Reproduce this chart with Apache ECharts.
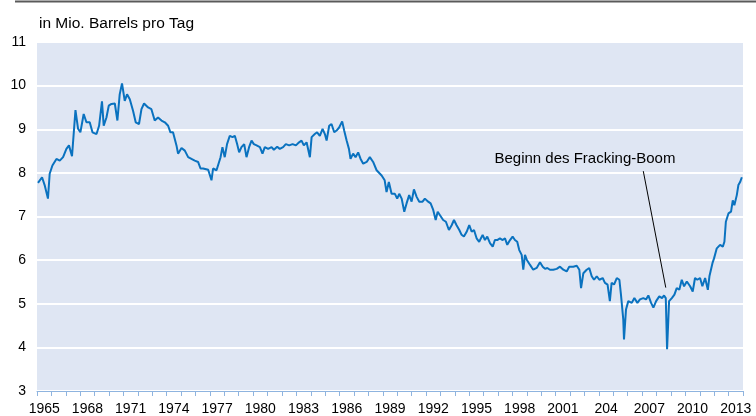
<!DOCTYPE html>
<html>
<head>
<meta charset="utf-8">
<script src="https://cdn.jsdelivr.net/npm/echarts@6/dist/echarts.min.js"></script>
<style>
html,body{margin:0;padding:0;background:#fff;}
#c{width:756px;height:416px;}
</style>
</head>
<body>
<div id="c"></div>
<script>
// Category labels on the x axis (one per year; "204" as printed in the original)
var yearLabels = ["1965","1966","1967","1968","1969","1970","1971","1972","1973","1974",
  "1975","1976","1977","1978","1979","1980","1981","1982","1983","1984",
  "1985","1986","1987","1988","1989","1990","1991","1992","1993","1994",
  "1995","1996","1997","1998","1999","2000","2001","2002","2003","204",
  "2005","2006","2007","2008","2009","2010","2011","2012","2013"];

// Time (decimal year) of each reading
var times = [
1965.07,1965.35,1965.53,1965.65,1965.76,1965.88,1966.07,1966.35,1966.58,1966.81,
1967.04,1967.22,1967.43,1967.67,1967.85,1968.01,1968.24,1968.43,1968.66,1968.85,
1969.13,1969.31,1969.51,1969.63,1969.82,1969.98,1970.17,1970.40,1970.58,1970.74,
1970.90,1971.09,1971.25,1971.44,1971.67,1971.85,1972.08,1972.25,1972.43,1972.71,
1972.94,1973.17,1973.40,1973.64,1973.87,1974.10,1974.26,1974.44,1974.68,1974.79,
1975.03,1975.26,1975.49,1975.72,1975.95,1976.18,1976.35,1976.53,1976.65,1976.88,
1977.11,1977.22,1977.46,1977.57,1977.74,1977.87,1978.03,1978.19,1978.38,1978.57,
1978.73,1978.89,1979.03,1979.19,1979.38,1979.54,1979.72,1979.89,1980.05,1980.24,
1980.47,1980.65,1980.81,1981.04,1981.28,1981.44,1981.67,1981.85,1982.08,1982.27,
1982.50,1982.74,1982.97,1983.19,1983.36,1983.52,1983.71,1983.94,1984.06,1984.28,
1984.44,1984.63,1984.82,1984.98,1985.10,1985.28,1985.44,1985.63,1985.79,1985.97,
1986.18,1986.32,1986.49,1986.65,1986.76,1986.94,1987.11,1987.29,1987.46,1987.64,
1987.88,1988.10,1988.33,1988.57,1988.68,1988.92,1989.13,1989.26,1989.42,1989.61,
1989.84,1990.00,1990.14,1990.31,1990.49,1990.65,1990.83,1991.00,1991.16,1991.35,
1991.53,1991.76,1991.92,1992.15,1992.32,1992.50,1992.67,1992.81,1992.97,1993.19,
1993.38,1993.59,1993.78,1993.94,1994.12,1994.31,1994.47,1994.63,1994.82,1995.00,
1995.17,1995.33,1995.51,1995.69,1995.93,1996.09,1996.25,1996.44,1996.63,1996.78,
1996.94,1997.13,1997.32,1997.48,1997.64,1997.83,1998.01,1998.17,1998.33,1998.47,
1998.64,1998.75,1998.87,1998.99,1999.22,1999.44,1999.68,1999.91,2000.10,2000.26,
2000.42,2000.60,2000.83,2001.07,2001.30,2001.53,2001.76,2001.94,2002.22,2002.46,
2002.64,2002.76,2002.92,2003.15,2003.33,2003.50,2003.66,2003.85,2004.03,2004.26,
2004.42,2004.60,2004.76,2004.88,2005.05,2005.24,2005.42,2005.53,2005.69,2005.74,
2005.88,2006.04,2006.28,2006.46,2006.67,2006.85,2007.08,2007.27,2007.43,2007.62,
2007.78,2007.97,2008.19,2008.38,2008.52,2008.64,2008.73,2008.87,2009.06,2009.24,
2009.40,2009.58,2009.75,2009.91,2010.10,2010.33,2010.51,2010.67,2010.83,2011.02,
2011.18,2011.37,2011.56,2011.67,2011.76,2011.88,2011.99,2012.18,2012.41,2012.60,
2012.71,2012.81,2012.99,2013.17,2013.29,2013.40,2013.57,2013.68,2013.80,2013.92
];

// Production, million barrels per day
var production = [
7.77,7.90,7.72,7.76,7.41,7.98,8.17,8.32,8.28,8.36,
8.55,8.63,8.38,9.44,9.01,8.93,9.35,9.16,9.16,8.93,
8.89,9.08,9.64,9.08,9.27,9.54,9.58,9.59,9.20,9.80,
10.05,9.65,9.80,9.69,9.42,9.16,9.12,9.46,9.59,9.50,
9.46,9.20,9.27,9.20,9.16,9.08,8.93,8.93,8.63,8.44,
8.57,8.51,8.36,8.32,8.28,8.25,8.10,8.10,8.13,8.07,
7.83,8.10,8.06,8.10,8.36,8.59,8.36,8.66,8.85,8.82,
8.85,8.66,8.47,8.59,8.66,8.36,8.59,8.74,8.66,8.63,
8.59,8.44,8.59,8.55,8.59,8.53,8.60,8.55,8.59,8.66,
8.63,8.66,8.63,8.70,8.74,8.63,8.70,8.36,8.82,8.89,
8.93,8.85,9.01,8.89,8.74,9.08,9.12,8.93,8.97,9.04,
9.18,8.97,8.74,8.55,8.32,8.44,8.36,8.47,8.32,8.21,
8.25,8.36,8.25,8.06,8.02,7.94,7.83,7.56,7.79,7.52,
7.52,7.41,7.52,7.41,7.11,7.30,7.49,7.34,7.62,7.45,
7.34,7.34,7.41,7.34,7.30,7.15,6.92,7.11,7.03,6.92,
6.88,6.69,6.80,6.92,6.80,6.69,6.58,6.54,6.65,6.80,
6.65,6.69,6.50,6.42,6.58,6.46,6.54,6.39,6.31,6.46,
6.46,6.50,6.46,6.50,6.35,6.46,6.54,6.46,6.42,6.23,
6.12,5.78,6.12,6.01,5.89,5.78,5.82,5.95,5.85,5.80,
5.82,5.78,5.78,5.80,5.85,5.78,5.74,5.85,5.85,5.87,
5.78,5.36,5.70,5.78,5.82,5.63,5.55,5.63,5.55,5.59,
5.48,5.44,5.06,5.48,5.44,5.59,5.55,5.21,4.64,4.18,
4.87,5.06,5.02,5.13,5.02,5.10,5.13,5.10,5.19,5.02,
4.91,5.06,5.17,5.13,5.19,5.13,3.96,5.06,5.13,5.21,
5.36,5.32,5.55,5.40,5.51,5.40,5.28,5.59,5.55,5.59,
5.40,5.59,5.32,5.63,5.59,5.93,6.04,6.27,6.35,6.31,
6.42,6.88,7.07,7.11,7.37,7.26,7.49,7.72,7.79,7.90
];

var titleText = "in Mio. Barrels pro Tag";
var noteText = "Beginn des Fracking-Boom";
var noteAnchor = [2003.03, 8.33];
var noteLine = [[2007.08, 8.04], [2008.64, 5.37]];

var seriesData = times.map(function (t, i) { return [t, production[i]]; });

var FONT = "'Liberation Sans', Arial, sans-serif";
var chart = echarts.init(document.getElementById('c'), null, {renderer: 'canvas'});
chart.setOption({
  animation: false,
  backgroundColor: '#ffffff',
  title: {
    text: titleText, left: 39, top: 16, padding: 0,
    textStyle: {fontFamily: FONT, fontSize: 15.5, fontWeight: 'normal', color: '#000'}
  },
  graphic: [{
    type: 'line', silent: true,
    shape: {x1: 15, y1: 1.5, x2: 756, y2: 1.5},
    style: {stroke: '#5a5a5a', lineWidth: 2}
  }],
  grid: {
    left: 37, right: 13, top: 42, bottom: 24,
    show: true, backgroundColor: '#dfe6f3', borderWidth: 0
  },
  xAxis: [{
    type: 'category', data: yearLabels, boundaryGap: true, position: 'bottom',
    axisLine: {show: true, lineStyle: {color: '#8fb4df', width: 1}},
    axisTick: {show: true, interval: 0, length: 5, lineStyle: {color: '#8fb4df'}},
    axisLabel: {interval: 2, fontFamily: FONT, fontSize: 14, color: '#000', margin: 11},
    splitLine: {show: false}
  }, {
    type: 'value', min: 1965, max: 2014, show: false,
    axisLine: {show: false}, axisTick: {show: false}, axisLabel: {show: false}, splitLine: {show: false}
  }],
  yAxis: {
    type: 'value', min: 3, max: 11, interval: 1,
    axisLine: {show: false}, axisTick: {show: false},
    axisLabel: {fontFamily: FONT, fontSize: 14, color: '#000', margin: 11},
    splitLine: {show: true, lineStyle: {color: '#ffffff', width: 2}}
  },
  series: [{
    type: 'line', xAxisIndex: 1, data: seriesData,
    showSymbol: false, symbol: 'none',
    lineStyle: {color: '#0a72bf', width: 2},
    z: 3,
    markLine: {
      silent: true, symbol: ['none', 'none'],
      lineStyle: {color: '#000', width: 1, type: 'solid'},
      label: {show: false},
      data: [[{coord: noteLine[0]}, {coord: noteLine[1]}]]
    },
    markPoint: {
      silent: true, symbol: 'circle', symbolSize: 0,
      label: {show: true, position: 'inside', formatter: noteText,
        fontFamily: FONT, fontSize: 15, color: '#000'},
      data: [{coord: noteAnchor}]
    }
  }]
});
</script>
</body>
</html>
